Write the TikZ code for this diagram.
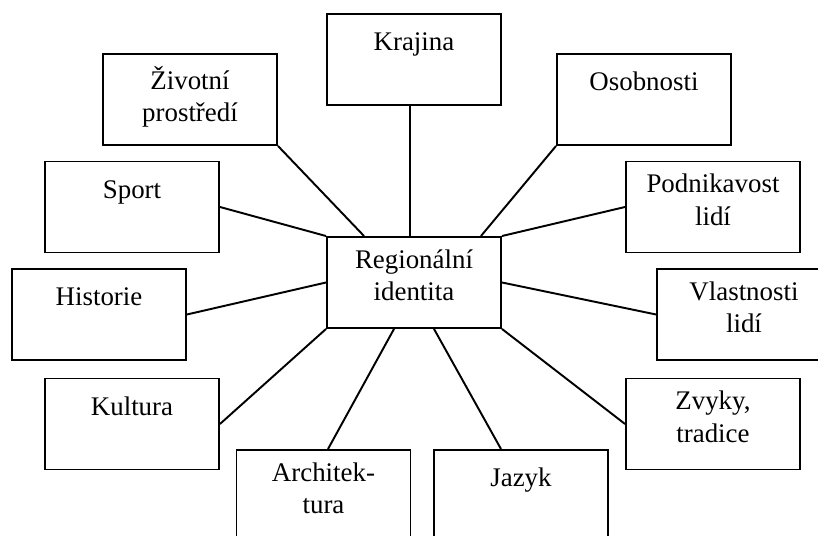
\documentclass[tikz,border=0pt]{standalone}
\usepackage{fontspec}
\setmainfont{Liberation Serif}
\begin{document}
\begin{tikzpicture}[
    topic/.style={draw, line width=1.1pt, minimum width=3.48cm, minimum height=1.82cm,
      label={[anchor=north, yshift=-7.4pt, align=center, inner sep=0pt,
        font=\fontsize{15.3}{18.5}\selectfont,
        execute at begin node={\rule{0pt}{14pt}}]north:{#1}}},
    link/.style={line width=1.1pt}]

  % Frame of the picture
  \useasboundingbox (0,0) rectangle (16.36,10.72);
  \clip (0,0) rectangle (16.36,10.72);

  % Middle box
  \node[topic={Regionální\\identita}] (reg) at (8.28,5.07) {};

  % Boxes round it
  \node[topic={Krajina}] (kraj) at (8.28,9.53) {};
  \node[topic={Životní\\prostředí}] (ziv) at (3.8,8.73) {};
  \node[topic={Osobnosti}] (osob) at (12.88,8.73) {};
  \node[topic={Sport}] (sport) at (2.64,6.58) {};
  \node[topic={Podnikavost\\lidí}] (podn) at (14.26,6.58) {};
  \node[topic={Historie}] (hist) at (1.98,4.43) {};
  \node[topic={Vlastnosti\\lidí}] (vlast) at (14.88,4.43) {};
  \node[topic={Kultura}] (kult) at (2.64,2.24) {};
  \node[topic={Zvyky,\\tradice}] (zvyk) at (14.26,2.24) {};
  \node[topic={Architek-\\tura}] (arch) at (6.47,0.81) {};
  \node[topic={Jazyk}] (jaz) at (10.42,0.81) {};

  % Lines to the middle box
  \draw[link] ([xshift=-0.08cm]kraj.south) -- ([xshift=-0.08cm]reg.north);
  \draw[link] (ziv.south east) -- ([xshift=0.76cm]reg.north west);
  \draw[link] (osob.south west) -- ([xshift=-0.42cm]reg.north east);
  \draw[link] (sport.east) -- (reg.north west);
  \draw[link] (podn.west) -- (reg.north east);
  \draw[link] (hist.east) -- (reg.west);
  \draw[link] (vlast.west) -- (reg.east);
  \draw[link] (kult.east) -- (reg.south west);
  \draw[link] (zvyk.west) -- (reg.south east);
  \draw[link] ([xshift=0.09cm]arch.north) -- ([xshift=-0.4cm]reg.south);
  \draw[link] ([xshift=-0.4cm]jaz.north) -- ([xshift=0.4cm]reg.south);

\end{tikzpicture}
\end{document}
